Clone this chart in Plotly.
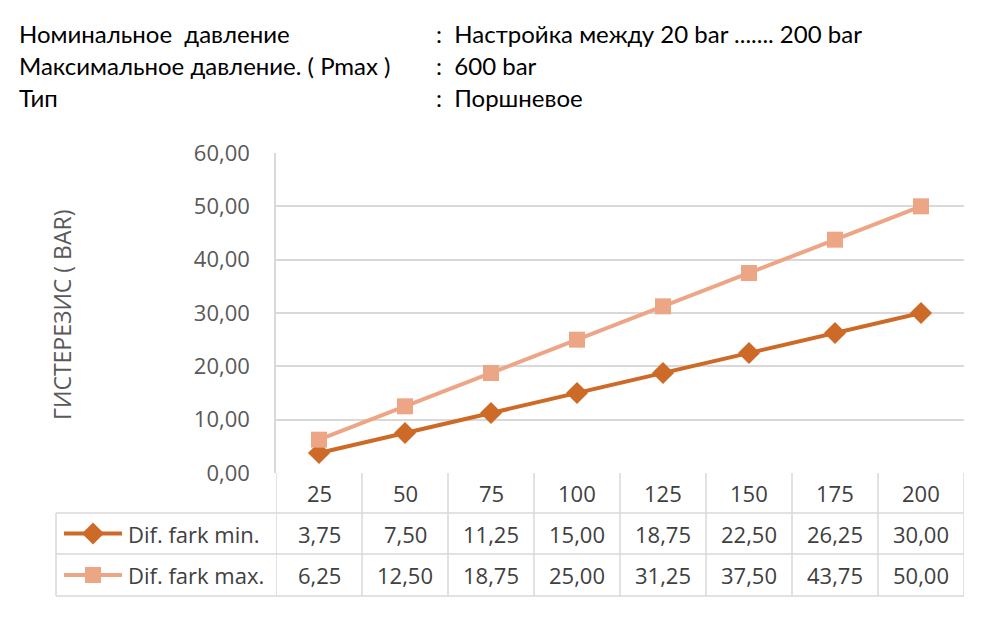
import plotly.graph_objects as go

# === Data ===
categories = ["25", "50", "75", "100", "125", "150", "175", "200"]
dif_min = [3.75, 7.50, 11.25, 15.00, 18.75, 22.50, 26.25, 30.00]
dif_max = [6.25, 12.50, 18.75, 25.00, 31.25, 37.50, 43.75, 50.00]
series_names = ["Dif. fark min.", "Dif. fark max."]
header_left = ["Номинальное  давление", "Максимальное давление. ( Pmax )", "Тип"]
header_right = [":  Настройка между 20 bar ....... 200 bar", ":  600 bar", ":  Поршневое"]
y_title = "ГИСТЕРЕЗИС ( BAR)"

# === Style / geometry (pixels in a 1000x632 page) ===
W, H = 1000, 632
PX_L, PX_R, PX_T, PX_B = 276, 964, 153, 473
ROW_LINES = [473, 513, 554, 596]
TABLE_L = 56
C_MIN = "#CD6A28"
C_MAX = "#EDA685"
GRID = "#D9D9D9"
TXT = "#404040"
HEAD_FONT = "Lato, Carlito, 'Liberation Sans Narrow', sans-serif"
TAB_FONT = "'Open Sans', 'Noto Sans', sans-serif"
TAB_SIZE = 22


def px(x):
    return x / W


def py(y):
    return 1 - y / H


fig = go.Figure()

fig.add_trace(go.Scatter(
    x=categories, y=dif_min, mode="lines+markers", name=series_names[0],
    line=dict(color=C_MIN, width=4),
    marker=dict(symbol="diamond", size=17, color=C_MIN),
    showlegend=False,
))
fig.add_trace(go.Scatter(
    x=categories, y=dif_max, mode="lines+markers", name=series_names[1],
    line=dict(color=C_MAX, width=4),
    marker=dict(symbol="square", size=16, color=C_MAX),
    showlegend=False,
))

# legend keys inside the data table, drawn on an overlay pixel axis
key_rows = [(ROW_LINES[1] + ROW_LINES[2]) / 2, (ROW_LINES[2] + ROW_LINES[3]) / 2]
for yy, col, sym, sz in [(key_rows[0], C_MIN, "diamond", 17), (key_rows[1], C_MAX, "square", 16)]:
    fig.add_trace(go.Scatter(
        x=[64, 122], y=[yy, yy], mode="lines", xaxis="x2", yaxis="y2",
        line=dict(color=col, width=4), showlegend=False, hoverinfo="skip",
    ))
    fig.add_trace(go.Scatter(
        x=[93], y=[yy], mode="markers", xaxis="x2", yaxis="y2",
        marker=dict(symbol=sym, size=sz, color=col), showlegend=False, hoverinfo="skip",
    ))

shapes = []
# table horizontal lines
for r in ROW_LINES[1:]:
    shapes.append(dict(type="line", xref="paper", yref="paper", x0=px(TABLE_L), x1=px(PX_R),
                       y0=py(r), y1=py(r), line=dict(color=GRID, width=1.5)))
# table vertical lines on category boundaries
for i in range(len(categories) + 1):
    shapes.append(dict(type="line", xref="x", yref="paper", x0=i - 0.5, x1=i - 0.5,
                       y0=py(ROW_LINES[0]), y1=py(ROW_LINES[-1]), line=dict(color=GRID, width=1.5)))
shapes.append(dict(type="line", xref="paper", yref="paper", x0=px(TABLE_L), x1=px(TABLE_L),
                   y0=py(ROW_LINES[1]), y1=py(ROW_LINES[-1]), line=dict(color=GRID, width=1.5)))

annotations = []
# header text
for i, (l, r) in enumerate(zip(header_left, header_right)):
    yy = py(33 + i * 32)
    annotations.append(dict(text=l, x=px(17), y=yy, xref="paper", yref="paper",
                            xanchor="left", yanchor="middle", showarrow=False,
                            font=dict(family=HEAD_FONT, size=24, color="#000000")))
    annotations.append(dict(text=r, x=px(434), y=yy, xref="paper", yref="paper",
                            xanchor="left", yanchor="middle", showarrow=False,
                            font=dict(family=HEAD_FONT, size=24, color="#000000")))

# y axis title
annotations.append(dict(text=y_title, x=px(62), y=py(315), xref="paper", yref="paper",
                        textangle=-90, showarrow=False, xanchor="center", yanchor="middle",
                        font=dict(family=TAB_FONT, size=23, color="#595959")))

# table: header row with categories, then series rows (x = category index)
hdr_y = py((ROW_LINES[0] + ROW_LINES[1]) / 2)
for i, c in enumerate(categories):
    annotations.append(dict(text=c, x=i, y=hdr_y, xref="x", yref="paper", showarrow=False,
                            xanchor="center", yanchor="middle",
                            font=dict(family=TAB_FONT, size=TAB_SIZE, color=TXT)))
for name, vals, yy in [(series_names[0], dif_min, key_rows[0]), (series_names[1], dif_max, key_rows[1])]:
    annotations.append(dict(text=name, x=px(126), y=py(yy), xref="paper", yref="paper",
                            xanchor="left", yanchor="middle", showarrow=False,
                            font=dict(family=TAB_FONT, size=TAB_SIZE, color=TXT)))
    for i, v in enumerate(vals):
        annotations.append(dict(text=f"{v:.2f}".replace(".", ","), x=i, y=py(yy),
                                xref="x", yref="paper", showarrow=False,
                                xanchor="center", yanchor="middle",
                                font=dict(family=TAB_FONT, size=TAB_SIZE, color=TXT)))

fig.update_layout(
    width=W, height=H,
    margin=dict(l=0, r=0, t=0, b=0, pad=0, autoexpand=False),
    paper_bgcolor="white", plot_bgcolor="rgba(0,0,0,0)",
    separators=",.",
    shapes=shapes, annotations=annotations,
    xaxis=dict(domain=[px(PX_L), px(PX_R)], type="category", range=[-0.5, 7.5],
               categoryorder="array", categoryarray=categories,
               showticklabels=False, showgrid=False, zeroline=False, ticks="",
               showline=False, fixedrange=True, automargin=False),
    yaxis=dict(domain=[py(PX_B), py(PX_T)], range=[0, 60], dtick=10, tickformat=".2f",
               showgrid=True, gridcolor=GRID, gridwidth=1.5, zeroline=False,
               showline=True, linecolor=GRID, linewidth=1.5, ticks="",
               ticklabelstandoff=20, automargin=False,
               tickfont=dict(family=TAB_FONT, size=22, color="#595959"), fixedrange=True),
    xaxis2=dict(domain=[0, 1], range=[0, W], visible=False, fixedrange=True, anchor="y2",
                automargin=False),
    yaxis2=dict(domain=[0, 1], range=[H, 0], visible=False, fixedrange=True, anchor="x2",
                automargin=False),
)
fig.update_traces(cliponaxis=False)

fig.write_html("out.html", config={"displayModeBar": False},
               post_script="document.body.style.margin='0';document.body.style.overflow='hidden';")
